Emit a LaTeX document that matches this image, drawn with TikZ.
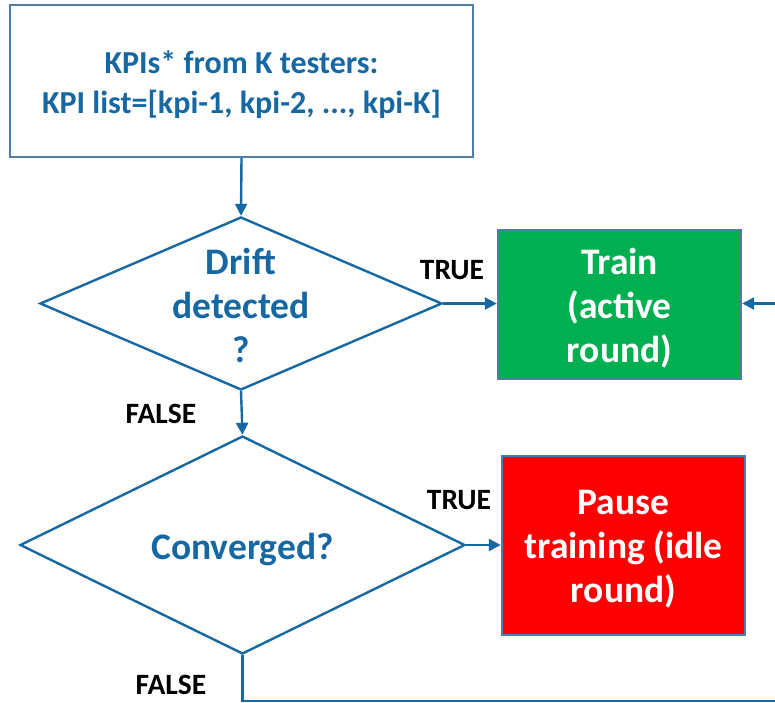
\documentclass[tikz,border=0pt]{standalone}
\usepackage{fontspec}
\setmainfont{Carlito}
\usetikzlibrary{shapes.geometric,arrows.meta}
\definecolor{flowblue}{RGB}{22,104,162}
\definecolor{boxedge}{RGB}{80,124,170}
\definecolor{okgreen}{RGB}{0,176,80}
\definecolor{stopred}{RGB}{255,0,0}
\tikzset{
  flow/.style={draw=flowblue, line width=2.4pt, -{Triangle[length=12pt,width=12pt]}},
  plainline/.style={draw=flowblue, line width=2.4pt},
  decision/.style={diamond, draw=flowblue, line width=2.4pt, inner sep=0pt},
  dtext/.style={font=\bfseries\fontsize{37.5}{44}\selectfont, text=flowblue, align=center},
  inbox/.style={rectangle, draw=boxedge, line width=2.4pt, fill=white},
  intext/.style={font=\bfseries\fontsize{32}{40}\selectfont, text=flowblue, align=center},
  actbox/.style={rectangle, draw=boxedge, line width=2.4pt},
  acttext/.style={text=white, font=\bfseries\fontsize{37.5}{44}\selectfont, align=center},
  tag/.style={font=\bfseries\fontsize{29.5}{32}\selectfont, text=black}
}
\begin{document}
\begin{tikzpicture}[x=1pt,y=-1pt]
\useasboundingbox (0,0) rectangle (775,702);
% input box
\node[inbox, minimum width=463pt, minimum height=152pt] (kpi) at (241.5,81) {};
\node[intext] (kpitxt) at (241.5,85)
  {KPIs* from K testers:\\KPI list=[kpi-1, kpi-2, ..., kpi-K]};
% first decision
\node[decision, minimum width=402pt, minimum height=173pt] (drift) at (241,303.5) {};
\node[dtext] (drifttxt) at (241,305) {Drift\\detected\\?};
% train box
\node[actbox, fill=okgreen, minimum width=243pt, minimum height=149pt] (train) at (619.5,304.5) {};
\node[acttext] (traintxt) at (619.5,308.5) {Train\\(active\\round)};
% second decision
\node[decision, minimum width=445pt, minimum height=218pt] (conv) at (242.5,545) {};
\node[dtext] (convtxt) at (242.5,550) {Converged?};
% pause box
\node[actbox, fill=stopred, minimum width=243pt, minimum height=179pt] (pause) at (623.5,545.5) {};
\node[acttext] (pausetxt) at (623.5,549.5) {Pause\\training (idle\\round)};
% connectors
\coordinate (loopin) at (775,303.5);
\coordinate (bend) at (242.5,701);
\coordinate (loopout) at (775,701);
\draw[flow] (kpi.south) -- (drift.north);
\draw[flow] (drift.east) -- (drift.east -| train.west);
\draw[flow] (loopin) -- (loopin -| train.east);
\draw[flow] (drift.south) -- (conv.north);
\draw[flow] (conv.east) -- (conv.east -| pause.west);
\draw[plainline] (conv.south) -- (bend) -- (loopout);
% branch tags
\node[tag] (t1) at (452,270) {TRUE};
\node[tag] (f1) at (161,414) {FALSE};
\node[tag] (t2) at (459,500) {TRUE};
\node[tag] (f2) at (171,685) {FALSE};
\end{tikzpicture}
\end{document}
